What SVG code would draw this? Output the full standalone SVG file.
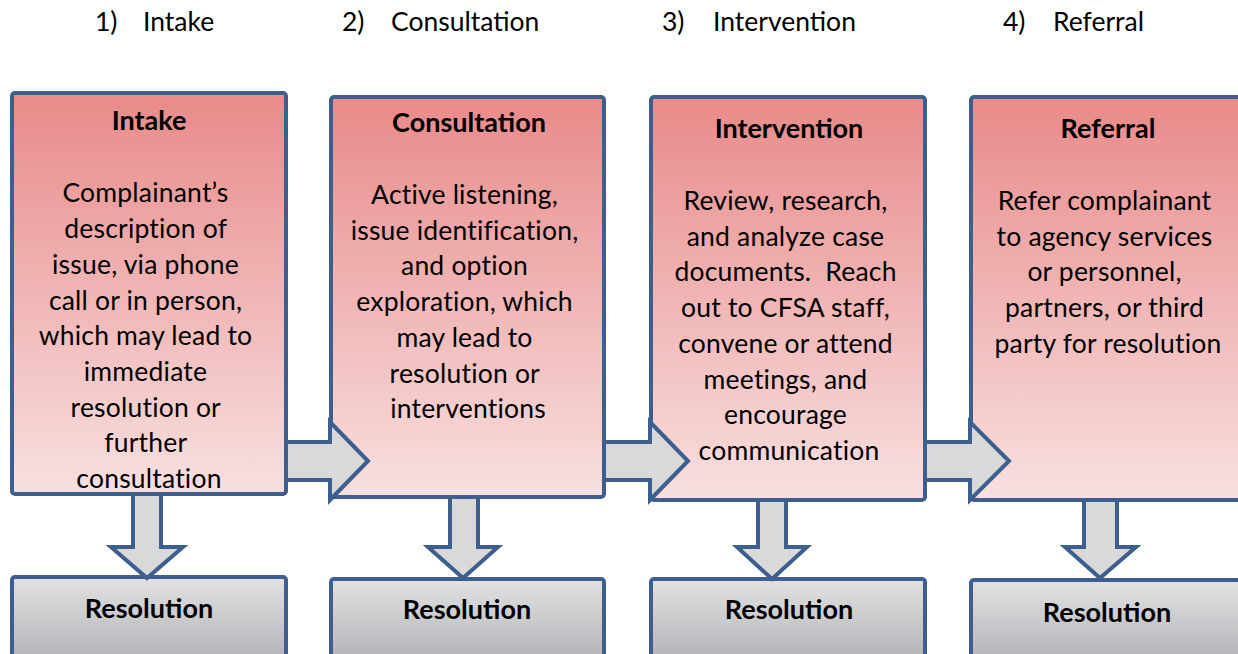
<svg xmlns="http://www.w3.org/2000/svg" width="1238" height="654" viewBox="0 0 1238 654">
  <defs>
    <linearGradient id="pink" x1="0" y1="0" x2="0" y2="1">
      <stop offset="0" stop-color="#e88a89"/>
      <stop offset="1" stop-color="#f8e0e0"/>
    </linearGradient>
    <linearGradient id="grey" x1="0" y1="0" x2="0" y2="1">
      <stop offset="0" stop-color="#e2e2e4"/>
      <stop offset="1" stop-color="#a7a9ac"/>
    </linearGradient>
    <style>
      .step { fill: url(#pink); stroke: #3e5f8e; stroke-width: 4; }
      .res { fill: url(#grey); stroke: #3e5f8e; stroke-width: 4; }
      .arrow { fill: #d9d9d9; stroke: #3e5f8e; stroke-width: 4; stroke-linejoin: miter; }
      text { font-family: Lato, "Open Sans", sans-serif; fill: #000; }
      .hdr { font-size: 26.5px; }
      .title { font-size: 27px; font-weight: bold; text-anchor: middle; }
      .body { font-size: 26.5px; text-anchor: middle; letter-spacing: 0.2px; }
      .rtitle { font-size: 27px; font-weight: bold; text-anchor: middle; }
    </style>
  </defs>

  <!-- stage headings -->
  <g id="headings">
    <text class="hdr" x="95" y="31">1)</text>
    <text class="hdr" x="143" y="31">Intake</text>
    <text class="hdr" x="342" y="31">2)</text>
    <text class="hdr" x="391" y="31">Consultation</text>
    <text class="hdr" x="662" y="31">3)</text>
    <text class="hdr" x="713" y="31">Intervention</text>
    <text class="hdr" x="1003" y="31">4)</text>
    <text class="hdr" x="1053" y="31">Referral</text>
  </g>

  <!-- step boxes -->
  <g id="intake">
    <rect class="step" x="12" y="93" width="274" height="401" rx="3"/>
    <text class="title" x="149" y="130">Intake</text>
    <text class="body">
      <tspan x="149" y="202">Complainant’s</tspan>
      <tspan x="149" y="238">description of</tspan>
      <tspan x="149" y="274">issue, via phone</tspan>
      <tspan x="149" y="310">call or in person,</tspan>
      <tspan x="149" y="345">which may lead to</tspan>
      <tspan x="149" y="381">immediate</tspan>
      <tspan x="149" y="417">resolution or</tspan>
      <tspan x="149" y="452">further</tspan>
      <tspan x="149" y="488">consultation</tspan>
    </text>
  </g>

  <g id="consultation">
    <rect class="step" x="331" y="97" width="273" height="400" rx="3"/>
    <text class="title" x="469" y="132">Consultation</text>
    <text class="body">
      <tspan x="468" y="204">Active listening,</tspan>
      <tspan x="468" y="240">issue identification,</tspan>
      <tspan x="468" y="275">and option</tspan>
      <tspan x="468" y="311">exploration, which</tspan>
      <tspan x="468" y="347">may lead to</tspan>
      <tspan x="468" y="383">resolution or</tspan>
      <tspan x="468" y="418">interventions</tspan>
    </text>
  </g>

  <g id="intervention">
    <rect class="step" x="651" y="97" width="274" height="403" rx="3"/>
    <text class="title" x="789" y="138">Intervention</text>
    <text class="body">
      <tspan x="789" y="210">Review, research,</tspan>
      <tspan x="789" y="246">and analyze case</tspan>
      <tspan x="789" y="281">documents.&#160; Reach</tspan>
      <tspan x="789" y="317">out to CFSA staff,</tspan>
      <tspan x="789" y="353">convene or attend</tspan>
      <tspan x="789" y="389">meetings, and</tspan>
      <tspan x="789" y="424">encourage</tspan>
      <tspan x="789" y="460">communication</tspan>
    </text>
  </g>

  <g id="referral">
    <rect class="step" x="971" y="97" width="290" height="403" rx="3"/>
    <text class="title" x="1108" y="138">Referral</text>
    <text class="body">
      <tspan x="1108" y="210">Refer complainant</tspan>
      <tspan x="1108" y="246">to agency services</tspan>
      <tspan x="1108" y="281">or personnel,</tspan>
      <tspan x="1108" y="317">partners, or third</tspan>
      <tspan x="1108" y="353">party for resolution</tspan>
    </text>
  </g>

  <!-- resolution boxes -->
  <g id="resolution-1">
    <rect class="res" x="12" y="577" width="274" height="100" rx="3"/>
    <text class="rtitle" x="149" y="618">Resolution</text>
  </g>
  <g id="resolution-2">
    <rect class="res" x="331" y="579" width="273" height="100" rx="3"/>
    <text class="rtitle" x="467" y="619">Resolution</text>
  </g>
  <g id="resolution-3">
    <rect class="res" x="651" y="579" width="274" height="100" rx="3"/>
    <text class="rtitle" x="789" y="619">Resolution</text>
  </g>
  <g id="resolution-4">
    <rect class="res" x="971" y="580" width="290" height="100" rx="3"/>
    <text class="rtitle" x="1107" y="622">Resolution</text>
  </g>

  <!-- block arrows between and below the steps -->
  <g id="connectors">
    <polygon class="arrow" points="286,442 330,442 330,422 368,461 330,500 330,480 286,480"/>
    <polygon class="arrow" points="604,442 650,442 650,422 688,461 650,500 650,480 604,480"/>
    <polygon class="arrow" points="925,442 970,442 970,422 1009,461 970,500 970,480 925,480"/>

    <polygon class="arrow" points="133,494 161,494 161,547 183,547 147,578 111,547 133,547"/>
    <polygon class="arrow" points="450,497 478,497 478,547 498,547 463,578 428,547 450,547"/>
    <polygon class="arrow" points="758,500 786,500 786,547 807,547 772,579 737,547 758,547"/>
    <polygon class="arrow" points="1084,500 1117,500 1117,547 1136,547 1100,578 1065,547 1084,547"/>
  </g>
</svg>
